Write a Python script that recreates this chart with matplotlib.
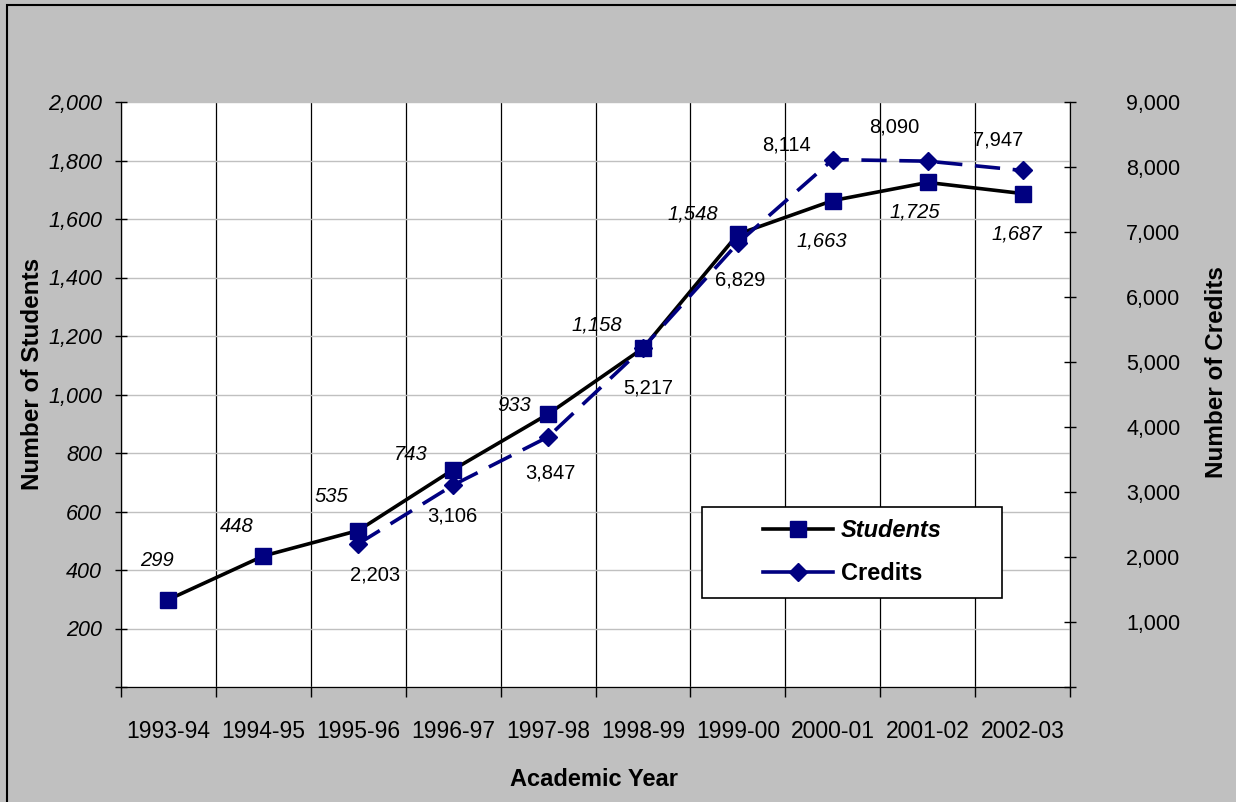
import numpy as np
import matplotlib
matplotlib.use('Agg')
import matplotlib.pyplot as plt
from matplotlib.patches import Rectangle
from matplotlib.lines import Line2D

# ---- data ----
years = ['1993-94', '1994-95', '1995-96', '1996-97', '1997-98',
         '1998-99', '1999-00', '2000-01', '2001-02', '2002-03']
students = [299, 448, 535, 743, 933, 1158, 1548, 1663, 1725, 1687]
credits = [np.nan, np.nan, 2203, 3106, 3847, 5217, 6829, 8114, 8090, 7947]

left_ticks = [0, 200, 400, 600, 800, 1000, 1200, 1400, 1600, 1800, 2000]
right_ticks = [0, 1000, 2000, 3000, 4000, 5000, 6000, 7000, 8000, 9000]

# label offsets in pixels (dx, dy) from each point
stu_off = [(-11, 39), (-27, 29), (-27, 34), (-42, 15), (-34, 9),
           (-46, 23), (-45, 20), (-11, -40), (-13, -30), (-6, -40)]
cred_off = [None, None, (17, -31), (-1, -31), (2, -36),
            (5, -40), (2, -37), (-46, 15), (-33, 34), (-24, 30)]

navy = '#000080'
plt.rcParams['font.family'] = ['Liberation Sans', 'DejaVu Sans']

W, H = 1236, 802
fig = plt.figure(figsize=(W / 100, H / 100), dpi=100)
fig.patch.set_facecolor('#C0C0C0')
# outer chart border (left and top visible)
fig.patches.append(Rectangle((7 / W, -0.05), 1.2, 1 - 5 / H + 0.05,
                             transform=fig.transFigure, fill=False,
                             edgecolor='black', linewidth=1.5))

ax = fig.add_axes([121 / W, 1 - 687 / H, 949 / W, 585 / H])
ax.set_facecolor('white')
x = np.arange(len(years))

ax.plot(x, students, color='black', linewidth=2.6, marker='s',
        markersize=11.5, markerfacecolor=navy, markeredgecolor=navy,
        zorder=4, label='Students')
ax.set_xlim(-0.5, len(years) - 0.5)
ax.set_ylim(0, 2000)
ax.set_yticks(left_ticks)
ax.set_yticklabels(['' if v == 0 else f'{v:,}' for v in left_ticks],
                   fontsize=15.5, style='italic')
ax.tick_params(axis='y', direction='inout', length=9, width=1, pad=9)
ax.yaxis.grid(True, color='#C0C0C0', linewidth=1)

ax.set_xticks(x)
ax.set_xticklabels(years, fontsize=16.5)
ax.set_xticks(np.arange(-0.5, len(years)), minor=True)
ax.tick_params(axis='x', which='major', length=0, pad=24)
ax.tick_params(axis='x', which='minor', direction='out', length=7, width=1)
ax.xaxis.grid(True, which='minor', color='black', linewidth=0.9)
ax.set_axisbelow(True)
ax.spines['top'].set_visible(False)

ax.set_ylabel('Number of Students', fontsize=17.5, fontweight='bold')
ax.yaxis.set_label_coords(-0.081, 0.535)
ax.set_xlabel('Academic Year', fontsize=17, fontweight='bold')
ax.xaxis.set_label_coords(0.498, -0.138)

for xi, v, off in zip(x, students, stu_off):
    ax.annotate(f'{v:,}', (xi, v), xytext=off, textcoords='offset pixels',
                ha='center', va='center', fontsize=14.5, style='italic')

ax2 = ax.twinx()
ax2.plot(x, credits, color=navy, linewidth=2.6, linestyle=(0, (7, 3.5)),
         marker='D', markersize=9.5, markerfacecolor=navy,
         markeredgecolor=navy, zorder=4, label='Credits')
ax2.set_ylim(0, 9000)
ax2.set_yticks(right_ticks)
ax2.set_yticklabels(['' if v == 0 else f'{v:,}' for v in right_ticks],
                    fontsize=15.5)
ax2.tick_params(axis='y', direction='inout', length=9, width=1, pad=36)
ax2.spines['top'].set_visible(False)
ax2.set_ylabel('Number of Credits', fontsize=17.5, fontweight='bold',
               rotation=90)
ax2.yaxis.set_label_coords(1.142, 0.539)

for xi, v, off in zip(x, credits, cred_off):
    if off is None:
        continue
    ax2.annotate(f'{v:,}', (xi, v), xytext=off, textcoords='offset pixels',
                 ha='center', va='center', fontsize=14.5)

# legend box
ax2.add_patch(Rectangle(((702 - 121) / 949, (687 - 598) / 585),
                        300 / 949, 91 / 585, transform=ax2.transAxes,
                        facecolor='white', edgecolor='black',
                        linewidth=1.2, zorder=5))
handles = [Line2D([], [], color='black', linewidth=2.6, marker='s',
                  markersize=11.5, markerfacecolor=navy, markeredgecolor=navy),
           Line2D([], [], color=navy, linewidth=2.6, marker='D',
                  markersize=9.5, markerfacecolor=navy, markeredgecolor=navy)]
leg = ax2.legend(handles, ['Students', 'Credits'], loc='center',
                 bbox_to_anchor=((852 - 121) / 949, (687 - 552) / 585),
                 frameon=False, handlelength=3.0, handletextpad=0.3,
                 labelspacing=0.85,
                 prop={'size': 17, 'weight': 'bold'})
leg.set_zorder(6)
leg.get_texts()[0].set_style('italic')

fig.savefig('out.png', dpi=100, facecolor=fig.get_facecolor())
